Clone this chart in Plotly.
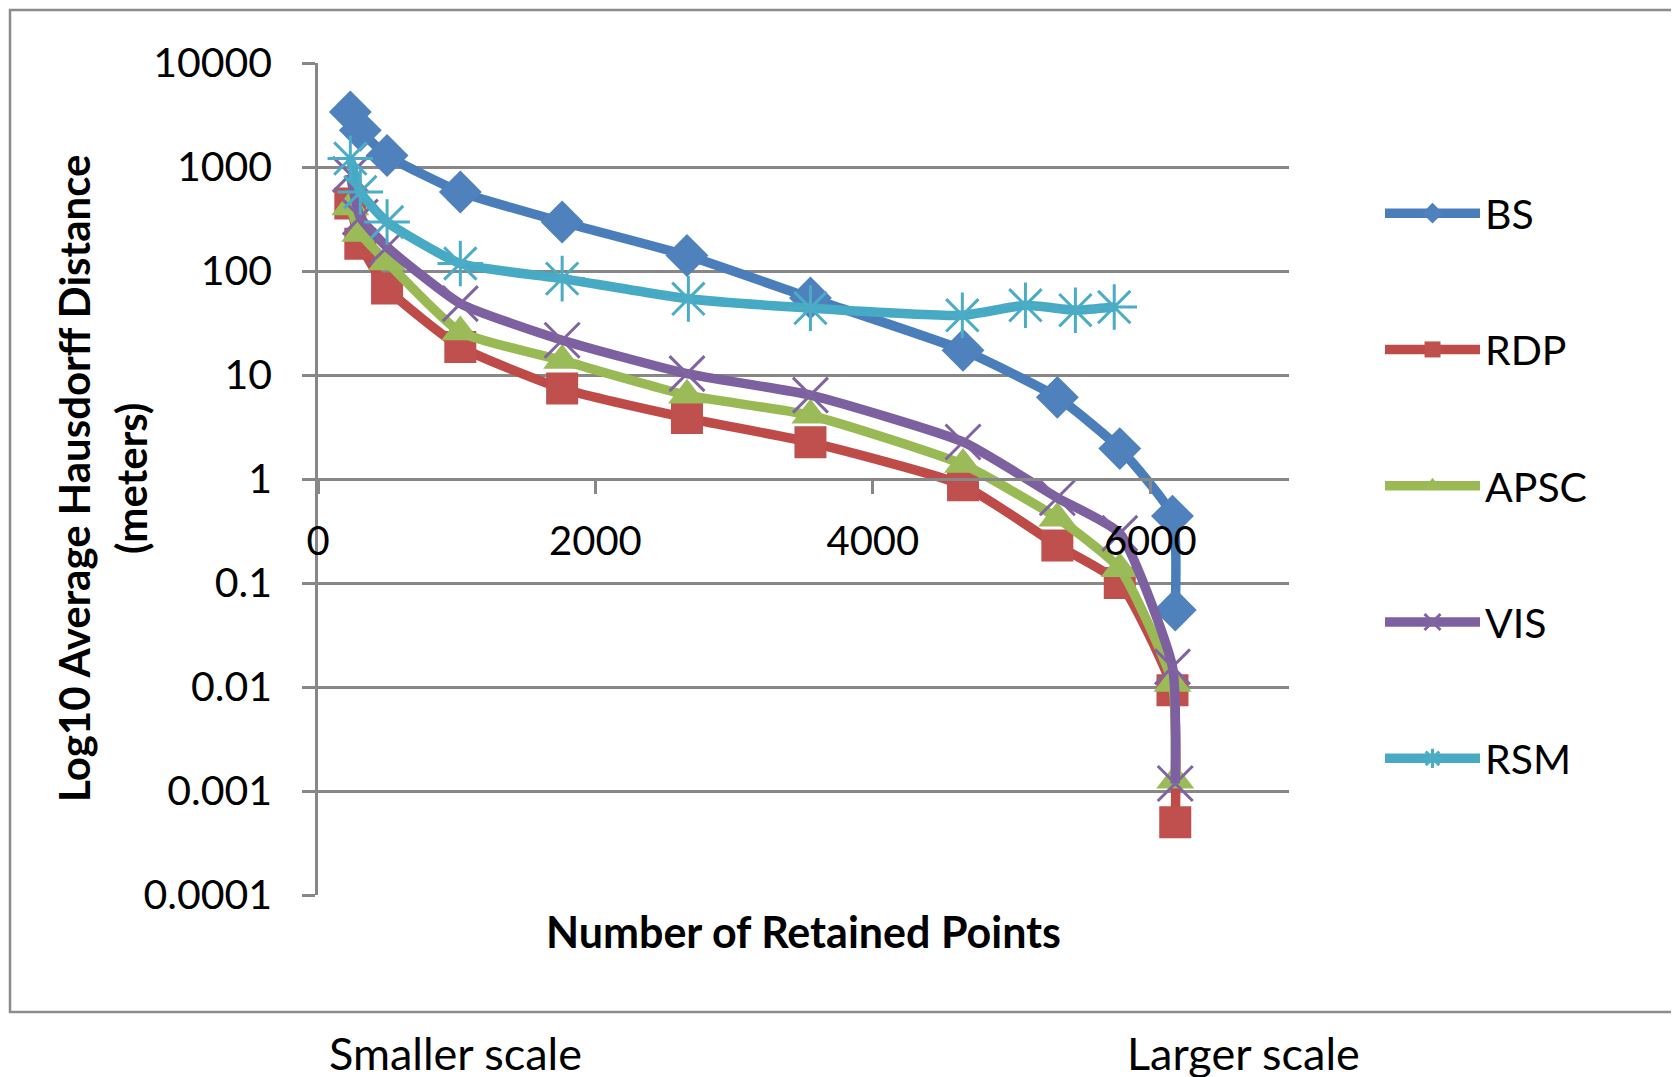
import plotly.graph_objects as go

# ---------------- data ----------------
series_names = ["BS", "RDP", "APSC", "VIS", "RSM"]

x_common = [233, 305, 498, 1026, 1760, 2660, 3550, 4650, 5330, 5780, 6160, 6180]
x_rsm = [233, 305, 498, 1026, 1760, 2670, 3550, 4645, 5100, 5460, 5740]

bs_vals = [3380, 2250, 1290, 575, 296, 141, 55, 17.3, 6.1, 1.96, 0.44, 0.055]
rdp_vals = [445, 183, 68, 18.6, 7.4, 3.85, 2.25, 0.87, 0.23, 0.10, 0.0093, 0.0005]
apsc_vals = [412, 229, 122, 25.9, 13.8, 6.4, 4.1, 1.38, 0.42, 0.137, 0.0108, 0.00127]
vis_vals = [850, 330, 170, 48.6, 21.6, 10.3, 6.4, 2.27, 0.66, 0.30, 0.0156, 0.00118]
rsm_vals = [1205, 575, 296, 118, 84.5, 54, 44, 37.5, 46.8, 42, 45]

y_tickvals = [0.0001, 0.001, 0.01, 0.1, 1, 10, 100, 1000, 10000]
y_ticktext = ["0.0001", "0.001", "0.01", "0.1", "1", "10", "100", "1000", "10000"]
x_tickvals = [0, 2000, 4000, 6000]
x_ticktext = ["0", "2000", "4000", "6000"]

y_title_line1 = "Log10 Average Hausdorff Distance"
y_title_line2 = "(meters)"
x_title = "Number of Retained Points"
note_left = "Smaller scale"
note_right = "Larger scale"

# ---------------- styles ----------------
FONT = "Lato"
GRID = "#878787"
line_colors = ["#4A7EBB", "#BE4B48", "#98B954", "#7D60A0", "#46AAC5"]
marker_colors = ["#4F81BD", "#C0504D", "#9BBB59", "#8064A2", "#4BACC6"]
symbols = ["diamond", "square", "triangle-up", "x-thin-open", "asterisk-open"]
sizes = [33, 32, 33, 35, 38]

xs = [x_common, x_common, x_common, x_common, x_rsm]
ys = [bs_vals, rdp_vals, apsc_vals, vis_vals, rsm_vals]

fig = go.Figure()
for i, name in enumerate(series_names):
    open_sym = symbols[i].endswith("open")
    fig.add_trace(go.Scatter(
        x=xs[i], y=ys[i], name=name, mode="lines+markers",
        legendgroup=name,
        line=dict(color=line_colors[i], width=9.5, shape="spline", smoothing=0.5),
        marker=dict(symbol=symbols[i], size=sizes[i], color=marker_colors[i],
                    line=dict(color=marker_colors[i], width=3 if open_sym else 0)),
    ))

W, H = 1679, 1077
OFF = 8  # page body margin offset
# plot area in reference pixel coords: x 318..1289, y 63..895
PL, PR, PT, PB = 318, 1289, 63, 895
L = PL - OFF
T = PT - OFF
pw, ph = PR - PL, PB - PT
R = W - L - pw
B = H - T - ph

def px_x(p):
    return (p - PL) / pw

def px_y(p):
    return (PB - p) / ph

fig.update_layout(
    width=W, height=H,
    margin=dict(l=L, r=R, t=T, b=B, pad=0),
    paper_bgcolor="white", plot_bgcolor="white",
    font=dict(family=FONT, size=40, color="black"),
    showlegend=True,
    legend=dict(x=px_x(1380), y=px_y(180), xanchor="left", yanchor="top",
                font=dict(family=FONT, size=41, color="black"),
                tracegroupgap=80, itemsizing="trace", itemwidth=95,
                bgcolor="rgba(0,0,0,0)"),
    xaxis=dict(range=[0, 7000], tickvals=x_tickvals, ticktext=x_ticktext,
               showgrid=False, zeroline=False, showline=True, linecolor=GRID, linewidth=2.5,
               ticks="outside", ticklen=13, tickwidth=2.5, tickcolor=GRID,
               anchor="free", position=0.5, ticklabelstandoff=13,
               tickfont=dict(family=FONT, size=40, color="black")),
    yaxis=dict(type="log", range=[-4, 4], domain=[0, 1], tickvals=y_tickvals, ticktext=y_ticktext,
               showgrid=True, gridcolor=GRID, gridwidth=2.5, zeroline=False,
               showline=True, linecolor=GRID, linewidth=2.5,
               ticks="outside", ticklen=13, tickwidth=2.5, tickcolor=GRID,
               ticklabelstandoff=22,
               tickfont=dict(family=FONT, size=41, color="black")),
)

fig.add_shape(type="rect", xref="paper", yref="paper",
              x0=px_x(10), x1=px_x(1720), y0=px_y(1012), y1=px_y(10),
              line=dict(color="#8C8C8C", width=2.5), layer="below")

fig.add_annotation(text="<b>%s</b>" % y_title_line1, xref="paper", yref="paper",
                   x=px_x(74), y=0.5, xanchor="center", yanchor="middle", textangle=-90,
                   showarrow=False, font=dict(family=FONT, size=42, color="black"))
fig.add_annotation(text="<b>%s</b>" % y_title_line2, xref="paper", yref="paper",
                   x=px_x(131), y=0.5, xanchor="center", yanchor="middle", textangle=-90,
                   showarrow=False, font=dict(family=FONT, size=42, color="black"))
fig.add_annotation(text="<b>%s</b>" % x_title, xref="paper", yref="paper",
                   x=0.5, y=px_y(932), xanchor="center", yanchor="middle",
                   showarrow=False, font=dict(family=FONT, size=43, color="black"))
fig.add_annotation(text=note_left, xref="paper", yref="paper",
                   x=px_x(455), y=px_y(1053), xanchor="center", yanchor="middle",
                   showarrow=False, font=dict(family=FONT, size=45, color="black"))
fig.add_annotation(text=note_right, xref="paper", yref="paper",
                   x=px_x(1243), y=px_y(1053), xanchor="center", yanchor="middle",
                   showarrow=False, font=dict(family=FONT, size=45, color="black"))

fig.write_html("out.html")
